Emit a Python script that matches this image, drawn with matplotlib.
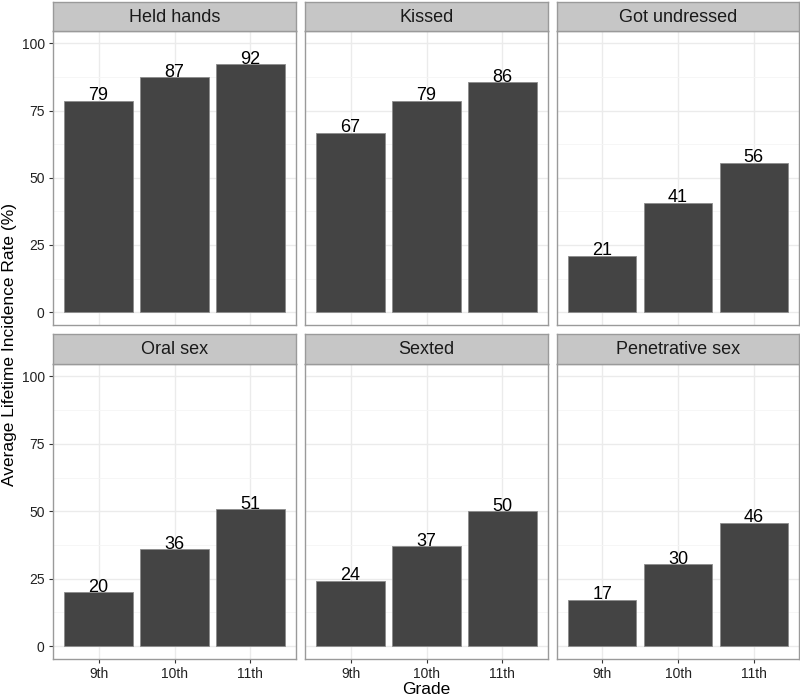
import matplotlib.pyplot as plt

plt.rcParams['font.family'] = ['Liberation Sans', 'DejaVu Sans']

grades = ["9th", "10th", "11th"]
behaviours = ["Held hands", "Kissed", "Got undressed",
              "Oral sex", "Sexted", "Penetrative sex"]

held_hands = [78.6, 87.3, 92.2]
kissed = [66.8, 78.6, 85.5]
got_undressed = [21.0, 40.6, 55.6]
oral_sex = [20.0, 35.9, 50.7]
sexted = [24.2, 37.1, 50.0]
penetrative_sex = [17.2, 30.4, 45.7]

values = [held_hands, kissed, got_undressed, oral_sex, sexted, penetrative_sex]

W, H = 800, 697
fig = plt.figure(figsize=(W / 100, H / 100), dpi=100)

col_x = [(53, 296), (305, 548), (557, 799)]
row_y = [(2, 31, 325), (334, 364, 659)]  # strip top, panel top, panel bottom

border_col = "#9a9a9a"

for i, name in enumerate(behaviours):
    r, c = divmod(i, 3)
    x0, x1 = col_x[c]
    s0, p0, p1 = row_y[r]

    ax = fig.add_axes([x0 / W, 1 - p1 / H, (x1 - x0) / W, (p1 - p0) / H])
    xs = range(len(grades))
    ax.bar(xs, values[i], width=0.9, color="#444444", edgecolor="#8c8c8c",
           linewidth=0.6, zorder=3)
    for x, v in zip(xs, values[i]):
        ax.text(x, v - 1.3, str(round(v)), ha="center", va="bottom",
                fontsize=13, color="black", zorder=4)
    ax.set_xlim(-0.6, 2.6)
    ax.set_ylim(-4.8, 104.6)
    ax.set_yticks([0, 25, 50, 75, 100])
    ax.set_yticks([12.5, 37.5, 62.5, 87.5], minor=True)
    ax.set_xticks(list(xs))
    ax.grid(True, which="major", color="#ebebeb", linewidth=1.0, zorder=0)
    ax.grid(True, which="minor", axis="y", color="#f5f5f5", linewidth=0.6,
            zorder=0)
    ax.tick_params(which="minor", length=0)
    ax.tick_params(which="major", length=3, color="#333333", labelsize=10,
                   labelcolor="#222222", pad=3)
    for sp in ax.spines.values():
        sp.set_color(border_col)
        sp.set_linewidth(1.0)
    if c == 0:
        ax.set_yticklabels(["0", "25", "50", "75", "100"])
    else:
        ax.set_yticklabels([])
        ax.tick_params(axis="y", length=0)
    if r == 1:
        ax.set_xticklabels(grades)
    else:
        ax.set_xticklabels([])
        ax.tick_params(axis="x", length=0)

    sx = fig.add_axes([x0 / W, 1 - p0 / H, (x1 - x0) / W, (p0 - s0) / H])
    sx.set_facecolor("#c6c6c6")
    sx.set_xticks([])
    sx.set_yticks([])
    for sp in sx.spines.values():
        sp.set_color(border_col)
        sp.set_linewidth(1.0)
    sx.text(0.5, 0.47, name, ha="center", va="center", fontsize=13,
            color="#1a1a1a", transform=sx.transAxes)

fig.text(10 / W, 1 - 345 / H, "Average Lifetime Incidence Rate (%)",
         rotation=90, ha="center", va="center", fontsize=12.5)
fig.text(426 / W, 1 - 689 / H, "Grade", ha="center", va="center",
         fontsize=12.5)

fig.savefig("out.png", dpi=100)
